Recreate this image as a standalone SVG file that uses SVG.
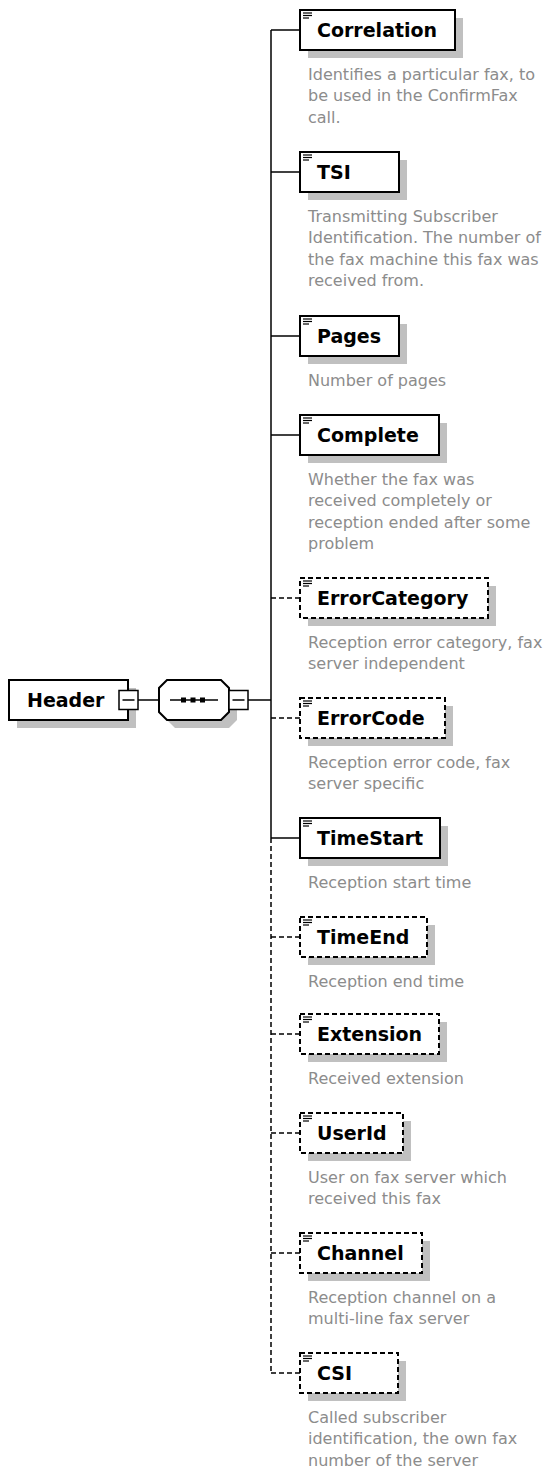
<svg xmlns="http://www.w3.org/2000/svg" width="550" height="1470" viewBox="0 0 550 1470">
<style>
.bg{fill:#fff}
.box{fill:#fff;stroke:#000;stroke-width:2}
.opt{stroke-dasharray:5 3}
.shadow{fill:#c0c0c0}
.lbl{font-family:"DejaVu Sans",Verdana,sans-serif;font-weight:bold;font-size:19px;fill:#000}
.desc{font-family:"DejaVu Sans",Verdana,sans-serif;font-size:16px;fill:#8c8c8c}
.ln{stroke:#000;stroke-width:1.5;fill:none}
.dl{stroke-dasharray:5 3}
.icon{stroke:#000;stroke-width:1.2}
</style>
<rect class="bg" x="0" y="0" width="550" height="1470"/>

<g id="connectors">
  <line class="ln" x1="138" y1="700" x2="159" y2="700"/>
  <line class="ln" x1="248" y1="700" x2="271" y2="700"/>
  <line class="ln" x1="271" y1="30" x2="271" y2="838"/>
  <line class="ln dl" x1="271" y1="838" x2="271" y2="1373"/>
  <line class="ln" x1="271" y1="30" x2="300" y2="30"/>
  <line class="ln" x1="271" y1="172" x2="300" y2="172"/>
  <line class="ln" x1="271" y1="336" x2="300" y2="336"/>
  <line class="ln" x1="271" y1="435" x2="300" y2="435"/>
  <line class="ln dl" x1="271" y1="598" x2="300" y2="598"/>
  <line class="ln dl" x1="271" y1="718" x2="300" y2="718"/>
  <line class="ln" x1="271" y1="838" x2="300" y2="838"/>
  <line class="ln dl" x1="271" y1="937" x2="300" y2="937"/>
  <line class="ln dl" x1="271" y1="1034" x2="300" y2="1034"/>
  <line class="ln dl" x1="271" y1="1133" x2="300" y2="1133"/>
  <line class="ln dl" x1="271" y1="1253" x2="300" y2="1253"/>
  <line class="ln dl" x1="271" y1="1373" x2="300" y2="1373"/>
</g>

<g id="Header">
  <rect class="shadow" x="17" y="688" width="119" height="40"/>
  <rect class="box" x="9" y="680" width="119" height="40"/>
  <text class="lbl" x="27" y="707">Header</text>
  <rect class="box" x="119" y="690.5" width="19" height="19" style="stroke-width:1.5"/>
  <line class="ln" x1="122.5" y1="700" x2="134.5" y2="700"/>
</g>

<g id="sequence">
  <polygon class="shadow" points="175,688 229,688 237,696 237,720 229,728 175,728 167,720 167,696"/>
  <polygon class="box" points="167,680 221,680 229,688 229,712 221,720 167,720 159,712 159,688"/>
  <line class="ln" x1="170" y1="700" x2="218" y2="700"/>
  <rect x="181" y="697.5" width="5" height="5" fill="#000"/>
  <rect x="190.5" y="697.5" width="5" height="5" fill="#000"/>
  <rect x="200" y="697.5" width="5" height="5" fill="#000"/>
  <rect class="box" x="229" y="690.5" width="19" height="19" style="stroke-width:1.5"/>
  <line class="ln" x1="232.5" y1="700" x2="244.5" y2="700"/>
</g>

<g id="Correlation">
  <rect class="shadow" x="308" y="18" width="155" height="40"/>
  <rect class="box" x="300" y="10" width="155" height="40"/>
  <line class="icon" x1="303" y1="13" x2="312" y2="13"/><line class="icon" x1="303" y1="15.5" x2="312" y2="15.5"/><line class="icon" x1="303" y1="18" x2="309" y2="18"/>
  <text class="lbl" x="317" y="37">Correlation</text>
  <text class="desc" x="308" y="79.5">Identifies a particular fax, to<tspan x="308" dy="21.5">be used in the ConfirmFax</tspan><tspan x="308" dy="21.5">call.</tspan></text>
</g>

<g id="TSI">
  <rect class="shadow" x="308" y="160" width="99" height="40"/>
  <rect class="box" x="300" y="152" width="99" height="40"/>
  <line class="icon" x1="303" y1="155" x2="312" y2="155"/><line class="icon" x1="303" y1="157.5" x2="312" y2="157.5"/><line class="icon" x1="303" y1="160" x2="309" y2="160"/>
  <text class="lbl" x="317" y="179">TSI</text>
  <text class="desc" x="308" y="221.5">Transmitting Subscriber<tspan x="308" dy="21.5">Identification. The number of</tspan><tspan x="308" dy="21.5">the fax machine this fax was</tspan><tspan x="308" dy="21.5">received from.</tspan></text>
</g>

<g id="Pages">
  <rect class="shadow" x="308" y="324" width="99" height="40"/>
  <rect class="box" x="300" y="316" width="99" height="40"/>
  <line class="icon" x1="303" y1="319" x2="312" y2="319"/><line class="icon" x1="303" y1="321.5" x2="312" y2="321.5"/><line class="icon" x1="303" y1="324" x2="309" y2="324"/>
  <text class="lbl" x="317" y="343">Pages</text>
  <text class="desc" x="308" y="385.5">Number of pages</text>
</g>

<g id="Complete">
  <rect class="shadow" x="308" y="423" width="139" height="40"/>
  <rect class="box" x="300" y="415" width="139" height="40"/>
  <line class="icon" x1="303" y1="418" x2="312" y2="418"/><line class="icon" x1="303" y1="420.5" x2="312" y2="420.5"/><line class="icon" x1="303" y1="423" x2="309" y2="423"/>
  <text class="lbl" x="317" y="442">Complete</text>
  <text class="desc" x="308" y="484.5">Whether the fax was<tspan x="308" dy="21.5">received completely or</tspan><tspan x="308" dy="21.5">reception ended after some</tspan><tspan x="308" dy="21.5">problem</tspan></text>
</g>

<g id="ErrorCategory">
  <rect class="shadow" x="308" y="586" width="188" height="40"/>
  <rect class="box opt" x="300" y="578" width="188" height="40"/>
  <line class="icon" x1="303" y1="581" x2="312" y2="581"/><line class="icon" x1="303" y1="583.5" x2="312" y2="583.5"/><line class="icon" x1="303" y1="586" x2="309" y2="586"/>
  <text class="lbl" x="317" y="605">ErrorCategory</text>
  <text class="desc" x="308" y="647.5">Reception error category, fax<tspan x="308" dy="21.5">server independent</tspan></text>
</g>

<g id="ErrorCode">
  <rect class="shadow" x="308" y="706" width="145" height="40"/>
  <rect class="box opt" x="300" y="698" width="145" height="40"/>
  <line class="icon" x1="303" y1="701" x2="312" y2="701"/><line class="icon" x1="303" y1="703.5" x2="312" y2="703.5"/><line class="icon" x1="303" y1="706" x2="309" y2="706"/>
  <text class="lbl" x="317" y="725">ErrorCode</text>
  <text class="desc" x="308" y="767.5">Reception error code, fax<tspan x="308" dy="21.5">server specific</tspan></text>
</g>

<g id="TimeStart">
  <rect class="shadow" x="308" y="826" width="140" height="40"/>
  <rect class="box" x="300" y="818" width="140" height="40"/>
  <line class="icon" x1="303" y1="821" x2="312" y2="821"/><line class="icon" x1="303" y1="823.5" x2="312" y2="823.5"/><line class="icon" x1="303" y1="826" x2="309" y2="826"/>
  <text class="lbl" x="317" y="845">TimeStart</text>
  <text class="desc" x="308" y="887.5">Reception start time</text>
</g>

<g id="TimeEnd">
  <rect class="shadow" x="308" y="925" width="127" height="40"/>
  <rect class="box opt" x="300" y="917" width="127" height="40"/>
  <line class="icon" x1="303" y1="920" x2="312" y2="920"/><line class="icon" x1="303" y1="922.5" x2="312" y2="922.5"/><line class="icon" x1="303" y1="925" x2="309" y2="925"/>
  <text class="lbl" x="317" y="944">TimeEnd</text>
  <text class="desc" x="308" y="986.5">Reception end time</text>
</g>

<g id="Extension">
  <rect class="shadow" x="308" y="1022" width="139" height="40"/>
  <rect class="box opt" x="300" y="1014" width="139" height="40"/>
  <line class="icon" x1="303" y1="1017" x2="312" y2="1017"/><line class="icon" x1="303" y1="1019.5" x2="312" y2="1019.5"/><line class="icon" x1="303" y1="1022" x2="309" y2="1022"/>
  <text class="lbl" x="317" y="1041">Extension</text>
  <text class="desc" x="308" y="1083.5">Received extension</text>
</g>

<g id="UserId">
  <rect class="shadow" x="308" y="1121" width="103" height="40"/>
  <rect class="box opt" x="300" y="1113" width="103" height="40"/>
  <line class="icon" x1="303" y1="1116" x2="312" y2="1116"/><line class="icon" x1="303" y1="1118.5" x2="312" y2="1118.5"/><line class="icon" x1="303" y1="1121" x2="309" y2="1121"/>
  <text class="lbl" x="317" y="1140">UserId</text>
  <text class="desc" x="308" y="1182.5">User on fax server which<tspan x="308" dy="21.5">received this fax</tspan></text>
</g>

<g id="Channel">
  <rect class="shadow" x="308" y="1241" width="122" height="40"/>
  <rect class="box opt" x="300" y="1233" width="122" height="40"/>
  <line class="icon" x1="303" y1="1236" x2="312" y2="1236"/><line class="icon" x1="303" y1="1238.5" x2="312" y2="1238.5"/><line class="icon" x1="303" y1="1241" x2="309" y2="1241"/>
  <text class="lbl" x="317" y="1260">Channel</text>
  <text class="desc" x="308" y="1302.5">Reception channel on a<tspan x="308" dy="21.5">multi-line fax server</tspan></text>
</g>

<g id="CSI">
  <rect class="shadow" x="308" y="1361" width="98" height="40"/>
  <rect class="box opt" x="300" y="1353" width="98" height="40"/>
  <line class="icon" x1="303" y1="1356" x2="312" y2="1356"/><line class="icon" x1="303" y1="1358.5" x2="312" y2="1358.5"/><line class="icon" x1="303" y1="1361" x2="309" y2="1361"/>
  <text class="lbl" x="317" y="1380">CSI</text>
  <text class="desc" x="308" y="1422.5">Called subscriber<tspan x="308" dy="21.5">identification, the own fax</tspan><tspan x="308" dy="21.5">number of the server</tspan></text>
</g>
</svg>
